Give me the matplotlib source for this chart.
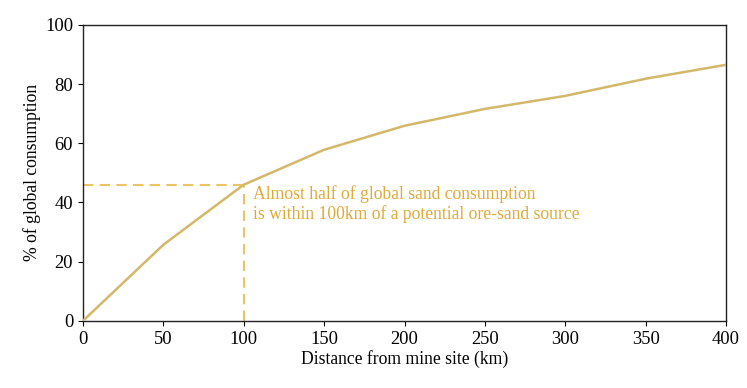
import matplotlib
matplotlib.use("Agg")
import matplotlib.pyplot as plt

distance_km = [0, 50, 100, 150, 200, 250, 300, 350, 400]
pct_consumption = [0, 25.7, 46, 57.8, 65.9, 71.6, 76, 81.8, 86.5]
marker_x = 100
marker_y = 46
annotation = "Almost half of global sand consumption\nis within 100km of a potential ore-sand source"

plt.rcParams['font.family'] = ['Liberation Serif', 'DejaVu Serif']
plt.rcParams['font.size'] = 12.7

fig = plt.figure(figsize=(7.47, 3.88), dpi=100)
ax = fig.add_axes([0.111, 0.173, 0.861, 0.763])

ax.plot(distance_km, pct_consumption, color='#D4B86A', lw=1.8, zorder=3)
ax.plot([0, marker_x], [marker_y, marker_y], color='#EBC466', lw=1.5, ls=(0, (5, 3)), zorder=2)
ax.plot([marker_x, marker_x], [0, marker_y], color='#EBC466', lw=1.5, ls=(0, (5, 3)), zorder=2)
ax.text(marker_x + 5.5, marker_y - 0.3, annotation, color='#E0AA3A', fontsize=12.7,
        va='top', ha='left', linespacing=1.1)

ax.set_xlim(0, 400)
ax.set_ylim(0, 100)
ax.set_xticks(range(0, 401, 50))
ax.set_yticks(range(0, 101, 20))
ax.tick_params(labelsize=13.3)
ax.set_xlabel('Distance from mine site (km)', labelpad=2)
ax.set_ylabel('% of global consumption', labelpad=3)
for s in ax.spines.values():
    s.set_linewidth(1.0)
    s.set_color('#222222')

fig.savefig('out.png', dpi=100)
